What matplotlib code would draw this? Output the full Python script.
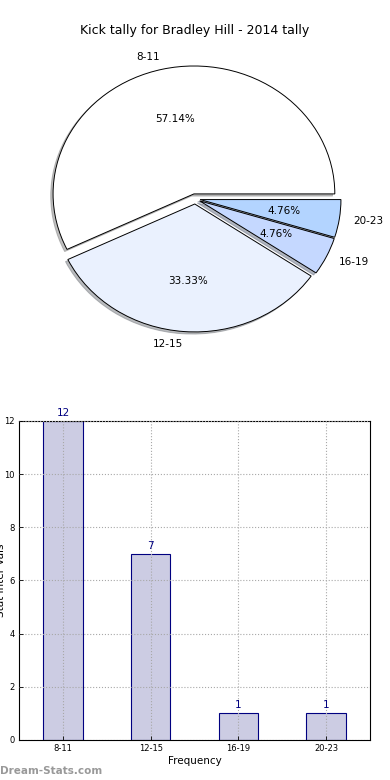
import matplotlib
matplotlib.use("Agg")
import matplotlib.pyplot as plt

# data
categories = ["8-11", "12-15", "16-19", "20-23"]
counts = [12, 7, 1, 1]
pie_colors = ["#ffffff", "#eaf1fe", "#c5d8ff", "#b3d4ff"]
explode = [0.04, 0.04, 0.035, 0.035]
y_ticks = [0, 2, 4, 6, 8, 10, 12]

fig = plt.figure(figsize=(3.9, 7.8), dpi=100)

# pie chart (elliptical, like old matplotlib)
ax1 = fig.add_axes([0.049, 0.540, 0.903, 0.410])
wedges, texts, autotexts = ax1.pie(counts, labels=categories, colors=pie_colors,
                                   explode=explode, autopct="%.2f%%",
                                   shadow={"ox": -0.012, "oy": -0.012, "shade": 0.5},
                                   startangle=0, counterclock=True,
                                   wedgeprops={"edgecolor": "black", "linewidth": 0.7},
                                   textprops={"fontsize": 7.5})
ax1.set_aspect("auto")
ax1.set_xlim(-1.25, 1.25)
ax1.set_ylim(-1.25, 1.25)
fig.text(0.5, 0.961, "Kick tally for Bradley Hill - 2014 tally", ha="center",
         va="center", fontsize=9)

# bar chart
ax2 = fig.add_axes([0.049, 0.0513, 0.9, 0.409])
x = range(len(categories))
ax2.bar(x, counts, width=0.45, color="#ccccE3", edgecolor="#000080", linewidth=0.8,
        zorder=1)
for i, c in zip(x, counts):
    ax2.text(i, c + 0.12, str(c), ha="center", va="bottom", color="#000080", fontsize=7.5)
ax2.set_xlim(-0.5, 3.5)
ax2.set_ylim(0, 12)
ax2.set_xticks(list(x))
ax2.set_xticklabels(categories, fontsize=6)
ax2.set_yticks(y_ticks)
ax2.set_yticklabels([str(t) for t in y_ticks], fontsize=6)
ax2.tick_params(direction="in", length=3, width=0.6, pad=3)
ax2.set_axisbelow(False)
ax2.grid(True, linestyle=":", color="#a8a8a8", linewidth=0.8, zorder=3)
ax2.set_xlabel("Frequency", fontsize=7.5, labelpad=2)
ax2.set_ylabel("Stat Inter Vals", fontsize=7.5)
ax2.yaxis.set_label_coords(-0.036, 0.5)
for s in ax2.spines.values():
    s.set_linewidth(0.8)

fig.text(0.0, 0.012, "Dream-Stats.com", color="#999999", fontsize=7.5,
         fontweight="bold", ha="left", va="center")

fig.savefig("out.png", dpi=100)
